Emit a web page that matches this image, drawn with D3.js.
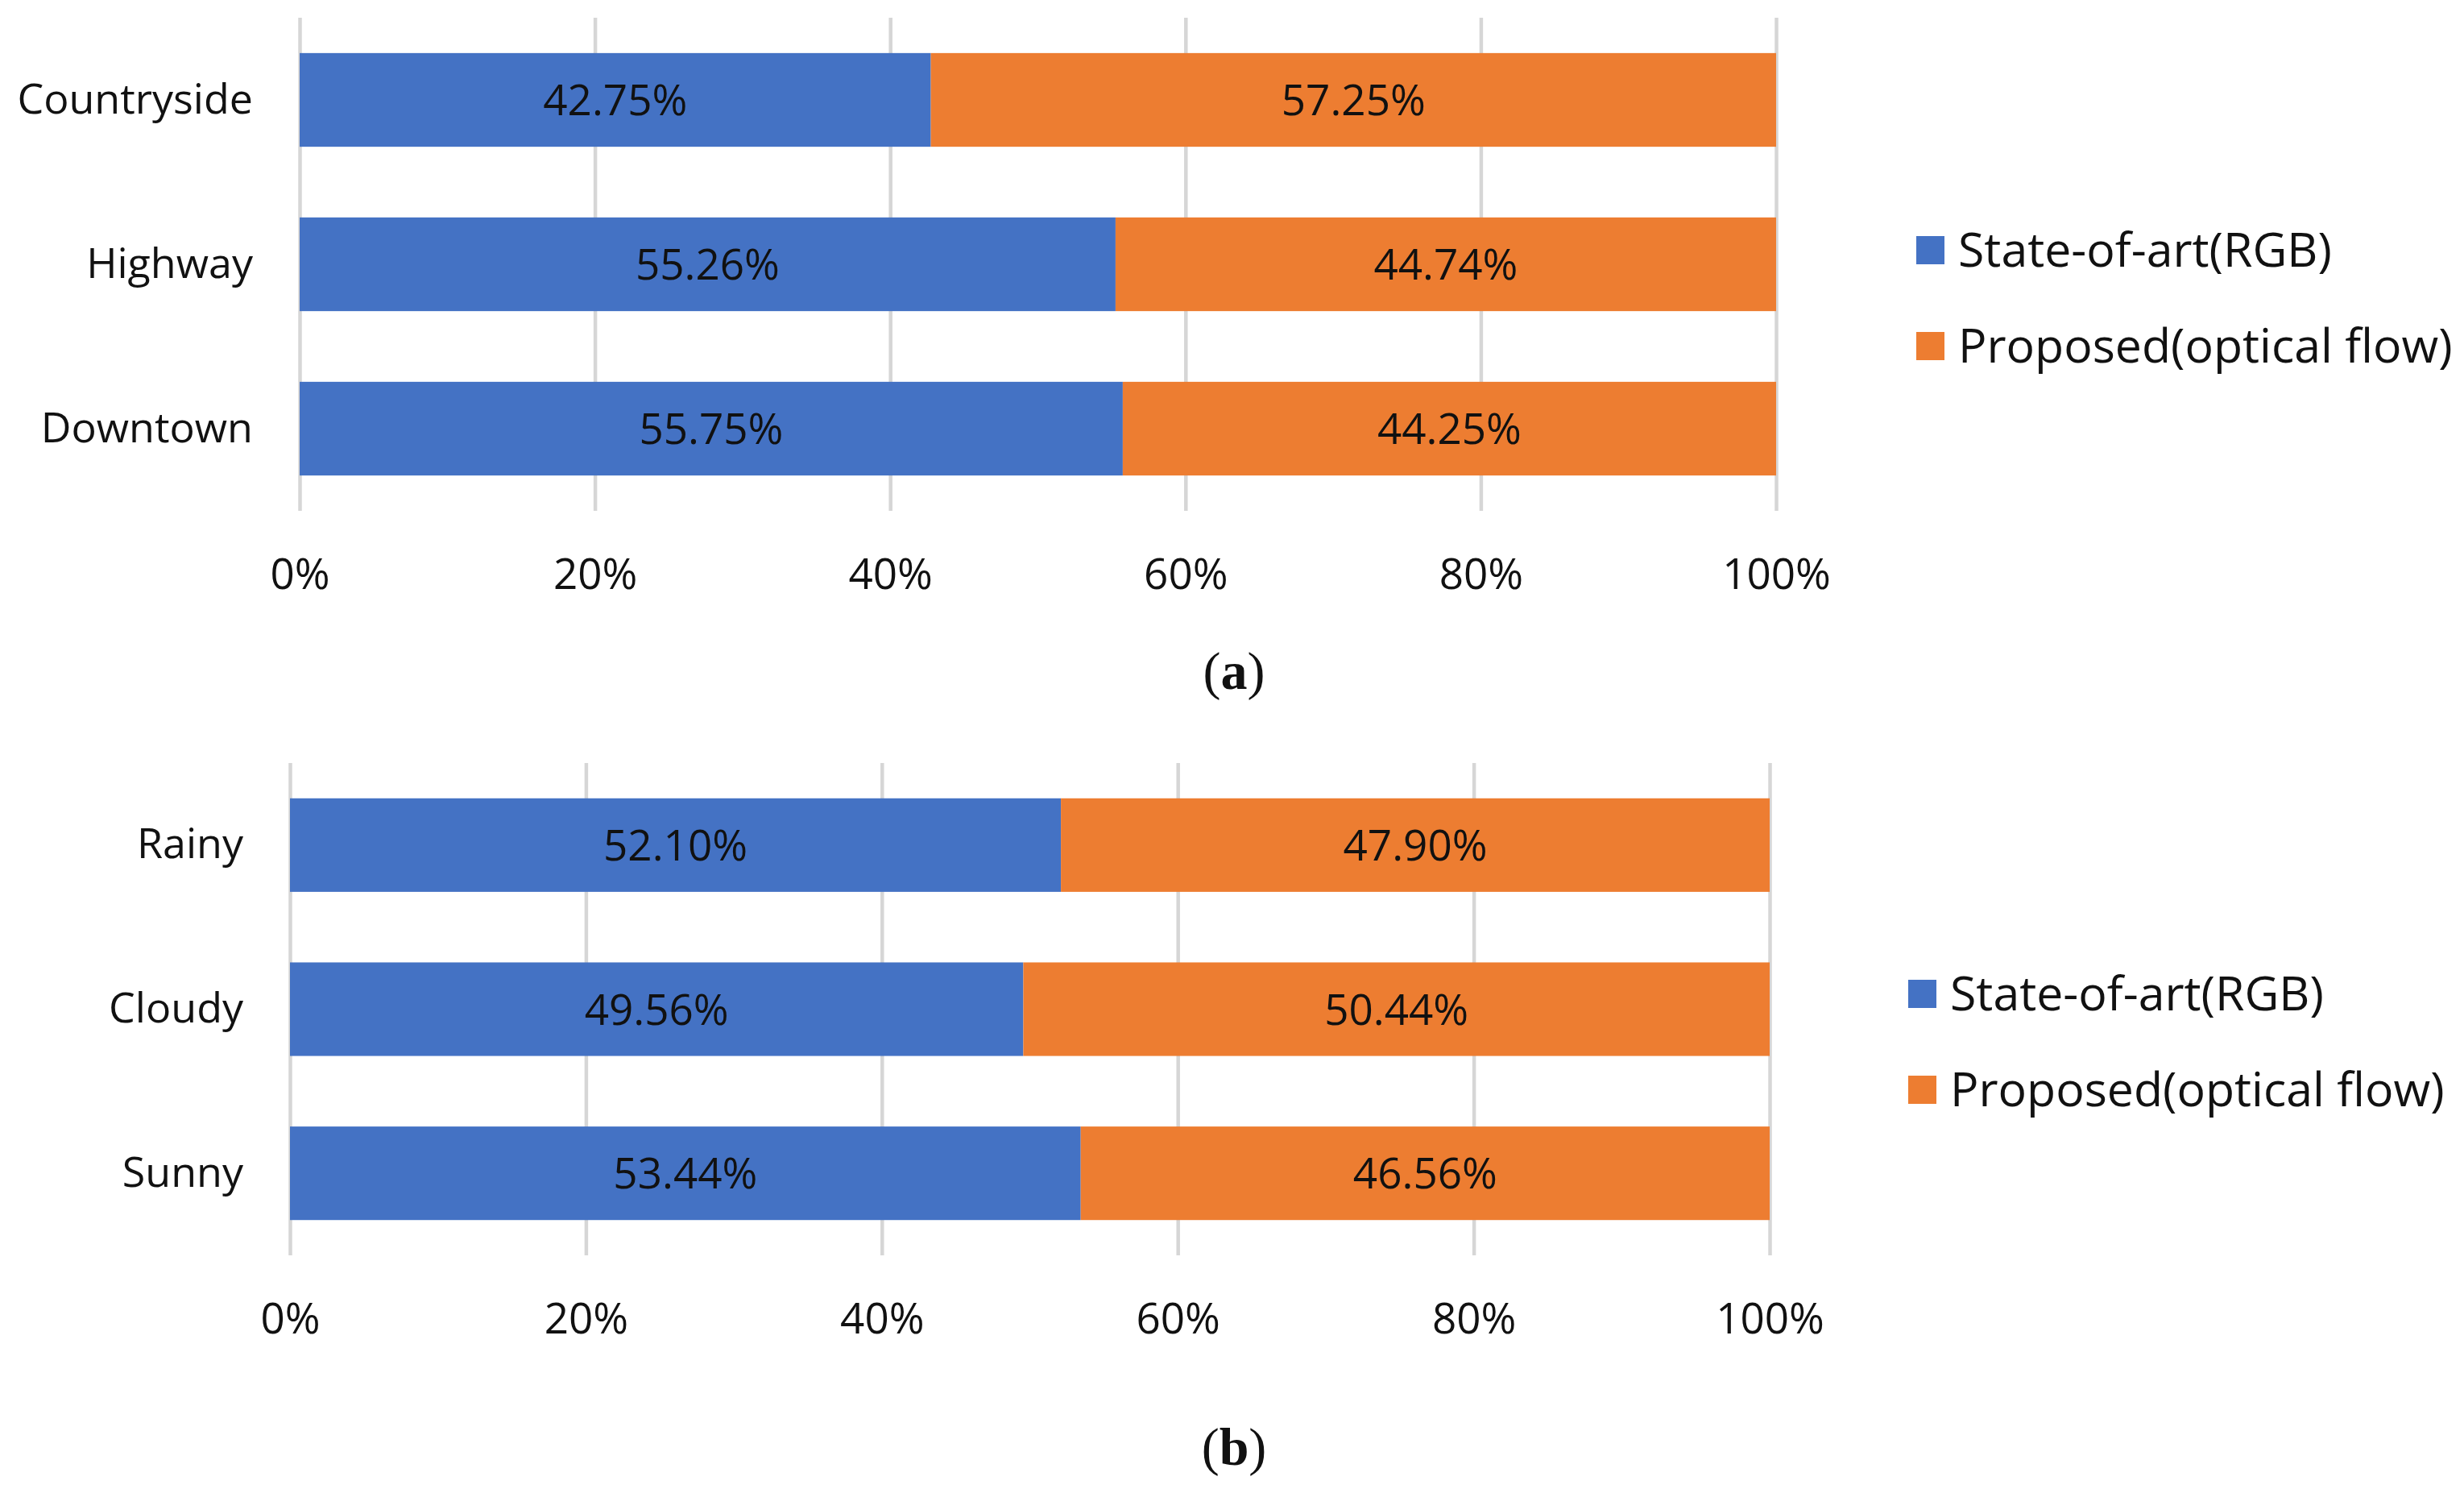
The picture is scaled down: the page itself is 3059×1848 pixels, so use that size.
<!DOCTYPE html>
<html>
<head>
<meta charset="utf-8">
<script src="https://cdn.jsdelivr.net/npm/d3@7"></script>
<style>
  body { margin: 0; background: #fff; }
  text { font-family: "Open Sans", sans-serif; fill: #111; }
</style>
</head>
<body>
<div id="chart"></div>
<script>
var width = 3059,
    height = 1848;

// data
var seriesNames = ["State-of-art(RGB)", "Proposed(optical flow)"];
var seriesColors = ["#4472C4", "#ED7D31"];
var xTicks = [0, 20, 40, 60, 80, 100];

var catsA = ["Countryside", "Highway", "Downtown"];
var rgbA = [42.75, 55.26, 55.75];
var flowA = [57.25, 44.74, 44.25];

var catsB = ["Rainy", "Cloudy", "Sunny"];
var rgbB = [52.10, 49.56, 53.44];
var flowB = [47.90, 50.44, 46.56];

var svg = d3.select("#chart")
  .append("svg")
  .attr("width", width)
  .attr("height", height);

function drawPanel(cfg) {
  var g = svg.append("g");

  var x = d3.scaleLinear().domain([0, 100]).range([cfg.x0, cfg.x1]);
  var y = d3.scaleBand().domain(cfg.cats).range([cfg.y0, cfg.y1])
    .paddingInner(0.43).paddingOuter(0.215);

  // grid + tick labels
  var xAxis = g.append("g")
    .attr("transform", "translate(0," + cfg.y1 + ")")
    .call(d3.axisBottom(x).tickValues(xTicks)
      .tickFormat(function(d){ return d + "%"; })
      .tickSize(-(cfg.y1 - cfg.y0))
      .tickPadding(59));
  xAxis.select(".domain").remove();
  xAxis.selectAll(".tick line")
    .attr("stroke", "#D6D6D6")
    .attr("stroke-width", 4.5);
  xAxis.selectAll(".tick text")
    .style("font-size", "53px")
    .style("font-family", "'Open Sans', sans-serif")
    .attr("fill", "#111");

  var rows = cfg.cats.map(function(c, i){
    return {cat: c, segs: [
      {s: 0, start: 0, val: cfg.rgb[i]},
      {s: 1, start: cfg.rgb[i], val: cfg.flow[i]}
    ]};
  });

  var row = g.selectAll("g.row")
    .data(rows)
    .enter()
    .append("g")
    .attr("class", "row");

  row.selectAll("rect")
    .data(function(d){ return d.segs.map(function(s){ s.cat = d.cat; return s; }); })
    .enter()
    .append("rect")
    .attr("x", function(d){ return x(d.start); })
    .attr("width", function(d){ return x(d.start + d.val) - x(d.start); })
    .attr("y", function(d){ return y(d.cat); })
    .attr("height", y.bandwidth())
    .attr("fill", function(d){ return seriesColors[d.s]; });

  row.selectAll("text.val")
    .data(function(d){ return d.segs; })
    .enter()
    .append("text")
    .attr("class", "val")
    .attr("x", function(d){ return x(d.start + d.val / 2); })
    .attr("y", function(d){ return y(d.cat) + y.bandwidth() / 2; })
    .attr("dy", "0.36em")
    .attr("text-anchor", "middle")
    .style("font-size", "53px")
    .text(function(d){ return d.val.toFixed(2) + "%"; });

  // category labels
  var yAxis = g.append("g")
    .attr("transform", "translate(" + cfg.x0 + ",0)")
    .call(d3.axisLeft(y).tickSize(0).tickPadding(cfg.x0 - cfg.labelRight));
  yAxis.select(".domain").remove();
  yAxis.selectAll(".tick text")
    .style("font-size", "52px")
    .style("font-family", "'Open Sans', sans-serif")
    .attr("fill", "#111");

  // legend
  var leg = g.selectAll("g.leg")
    .data(seriesNames)
    .enter()
    .append("g")
    .attr("class", "leg")
    .attr("transform", function(d, i){ return "translate(" + cfg.legX + "," + (cfg.legY + i * 119) + ")"; });
  leg.append("rect")
    .attr("x", 0).attr("y", -17)
    .attr("width", 35).attr("height", 35)
    .attr("fill", function(d, i){ return seriesColors[i]; });
  leg.append("text")
    .attr("x", 52)
    .attr("dy", "0.36em")
    .style("font-size", "59px")
    .text(function(d){ return d; });

  // caption
  var cap = g.append("text")
    .attr("x", 1532)
    .attr("y", cfg.capY)
    .attr("dy", "0.35em")
    .attr("text-anchor", "middle")
    .style("font-family", "'Liberation Serif', 'Times New Roman', serif")
    .style("font-size", "66px");
  cap.append("tspan").text("(");
  cap.append("tspan").style("font-weight", "bold").text(cfg.letter);
  cap.append("tspan").text(")");
}

drawPanel({cats: catsA, rgb: rgbA, flow: flowA, x0: 372, x1: 2205, y0: 22, y1: 634,
  labelRight: 314, legX: 2379, legY: 310, capY: 832, letter: "a"});
drawPanel({cats: catsB, rgb: rgbB, flow: flowB, x0: 360, x1: 2197, y0: 947, y1: 1558,
  labelRight: 302, legX: 2369, legY: 1233, capY: 1795, letter: "b"});
</script>
</body>
</html>
